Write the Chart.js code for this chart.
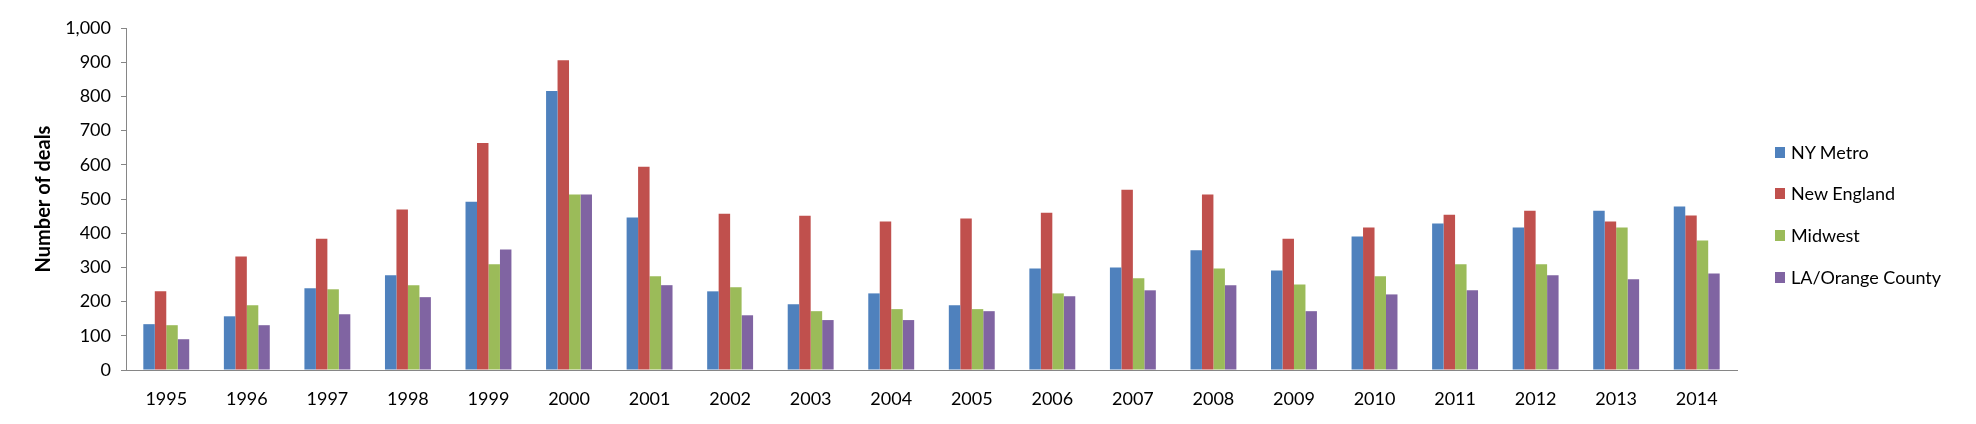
<!DOCTYPE html>
<html>
<head>
<meta charset="utf-8">
<script src="https://cdn.jsdelivr.net/npm/chart.js@4.4.1/dist/chart.umd.min.js"></script>
<style>
  html, body { margin: 0; padding: 0; background: #fff; }
  #wrap { position: relative; width: 1976px; height: 424px; }
  #legend { position: absolute; left: 1775px; top: 0; font-family: Lato, "Open Sans", sans-serif; font-size: 18px; color: #000; }
  .item { position: absolute; left: 0; white-space: nowrap; display: flex; align-items: center; }
  .box { width: 10px; height: 11px; margin-right: 6px; }
</style>
</head>
<body>
<div id="wrap">
  <canvas id="chart"></canvas>
  <div id="legend"></div>
</div>
<script>
const years = ["1995", "1996", "1997", "1998", "1999", "2000", "2001", "2002", "2003", "2004",
               "2005", "2006", "2007", "2008", "2009", "2010", "2011", "2012", "2013", "2014"];

const nyMetro    = [134, 157, 239, 277, 492, 816, 446, 230, 192, 224, 189, 297, 300, 350, 291, 390, 428, 417, 466, 478];
const newEngland = [230, 332, 384, 469, 664, 906, 594, 457, 451, 434, 443, 460, 527, 513, 384, 417, 454, 466, 434, 452];
const midwest    = [131, 189, 236, 248, 309, 513, 274, 242, 172, 178, 178, 224, 268, 297, 250, 274, 309, 309, 417, 379];
const laOrange   = [90, 131, 163, 213, 352, 513, 248, 160, 146, 146, 172, 216, 233, 248, 172, 221, 233, 277, 265, 282];

const seriesNames = ["NY Metro", "New England", "Midwest", "LA/Orange County"];
const seriesColors = ["#4F81BD", "#C0504D", "#9BBB59", "#8064A2"];
const yTicks = [0, 100, 200, 300, 400, 500, 600, 700, 800, 900, 1000];

const seriesData = [nyMetro, newEngland, midwest, laOrange];
const FONT = "Lato, 'Open Sans', sans-serif";
const AXIS = "#868686";

const ctx = document.getElementById('chart').getContext('2d');
new Chart(ctx, {
    type: 'bar',
    data: {
        labels: years,
        datasets: seriesNames.map((name, i) => ({
            label: name,
            data: seriesData[i],
            backgroundColor: seriesColors[i],
            borderWidth: 0,
            categoryPercentage: 0.57,
            barPercentage: 1.0
        }))
    },
    options: {
        responsive: true,
        maintainAspectRatio: false,
        animation: false,
        layout: { padding: { top: 28, right: 239, bottom: 0, left: 0 } },
        plugins: {
            legend: { display: false },
            tooltip: { enabled: false }
        },
        scales: {
            x: {
                grid: { display: false },
                border: { display: true, color: AXIS, width: 1 },
                ticks: { color: '#000', font: { family: FONT, size: 18 }, padding: 10, maxRotation: 0 },
                afterFit: s => { s.height = 54; }
            },
            y: {
                min: 0,
                max: 1000,
                afterBuildTicks: s => { s.ticks = yTicks.map(v => ({ value: v })); },
                grid: { display: true, drawOnChartArea: false, drawTicks: true, tickLength: 5, color: AXIS },
                border: { display: true, color: AXIS, width: 1 },
                ticks: { color: '#000', font: { family: FONT, size: 18 }, padding: 10,
                         callback: v => v.toLocaleString('en-US') },
                title: { display: true, text: 'Number of deals', color: '#000',
                         font: { family: FONT, size: 20, weight: 'bold' }, padding: { top: 32, bottom: 0 } },
                afterFit: s => { s.width = 126; }
            }
        }
    }
});

// legend to the right of the plot
const legend = document.getElementById('legend');
const rowY = [152, 193, 235, 277];
seriesNames.forEach((name, i) => {
    const item = document.createElement('div');
    item.className = 'item';
    item.style.top = (rowY[i] - 12) + 'px';
    item.style.height = '24px';
    const box = document.createElement('span');
    box.className = 'box';
    box.style.background = seriesColors[i];
    const txt = document.createElement('span');
    txt.textContent = name;
    item.appendChild(box);
    item.appendChild(txt);
    legend.appendChild(item);
});
</script>
</body>
</html>
